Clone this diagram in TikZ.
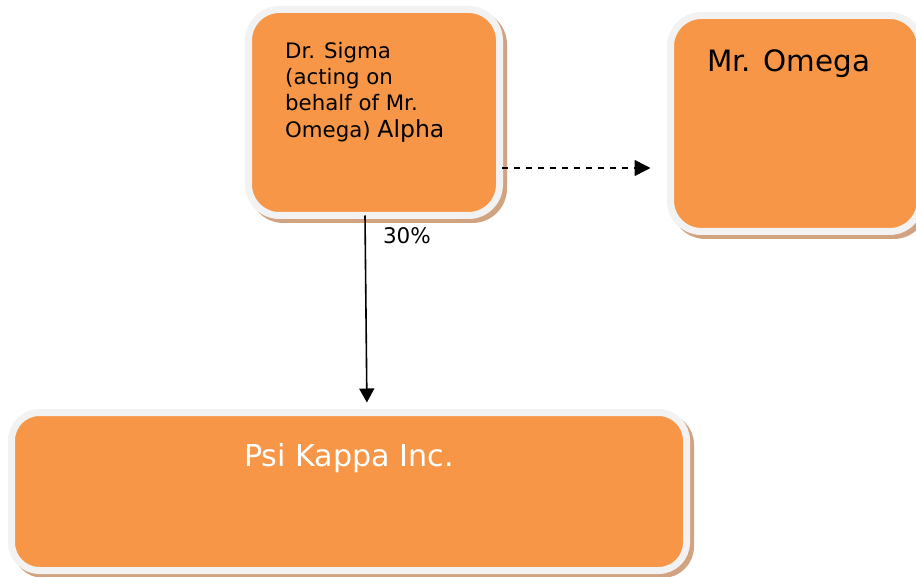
\documentclass[tikz,border=0pt]{standalone}
\usepackage{fontspec}
\setmainfont{DejaVu Sans}
\usetikzlibrary{arrows.meta,shadows}
\definecolor{boxorange}{HTML}{F79646}
\definecolor{boxrim}{HTML}{F2F2F2}
\definecolor{boxshade}{RGB}{210,163,128}
\tikzset{
  orgbox/.style={rectangle, rounded corners=31pt, fill=boxorange, draw=boxrim,
    line width=7pt, outer sep=0pt, inner sep=0pt,
    drop shadow={shadow xshift=4pt, shadow yshift=-4pt, fill=boxshade, draw=boxshade,
      line width=7pt, opacity=1}},
  lbl/.style={inner sep=0pt, anchor=base west, text=black},
  conn/.style={line width=1.6pt, draw=black}
}
\begin{document}
\begin{tikzpicture}[x=1pt,y=-1pt]
\useasboundingbox (0,0) rectangle (916,577);
\clip (0,0) rectangle (916,577);
% boxes
\node[orgbox, minimum width=251pt, minimum height=206pt] (sigma) at (374,112.5) {};
\node[orgbox, minimum width=250pt, minimum height=216pt] (omega) at (795.5,123.5) {};
\node[orgbox, rounded corners=28pt, minimum width=675pt, minimum height=158pt] (psi) at (349,491.5) {};
% texts
\node[lbl, font=\fontsize{21.3}{26.3}\selectfont, align=left, anchor=north west] (sigmatext) at (285,42)
  {Dr. Sigma\\(acting on\\behalf of Mr.\\Omega) {\fontsize{23.5}{26.3}\selectfont Alpha}};
\node[lbl, font=\fontsize{29.4}{34}\selectfont] (omegatext) at (707,72) {Mr. Omega};
\node[lbl, font=\fontsize{30.2}{34}\selectfont, text=white] (psitext) at (244,466) {Psi Kappa Inc.};
% connectors
\draw[conn, -{Triangle[length=14pt,width=15pt]}, shorten >=10pt]
  ([xshift=-9pt]sigma.south) -- ([xshift=18pt]psi.north)
  node[lbl, font=\fontsize{21.5}{26}\selectfont, pos=0.1, anchor=west, xshift=17pt] (pct) {30\%};
\draw[conn, dashed, dash pattern=on 6pt off 6pt, -{Triangle[length=16pt,width=16pt]},
  shorten >=20pt, shorten <=2.5pt]
  ([yshift=-55.5pt]sigma.east) -- ([yshift=-55.5pt]sigma.east -| omega.west);
\end{tikzpicture}
\end{document}
